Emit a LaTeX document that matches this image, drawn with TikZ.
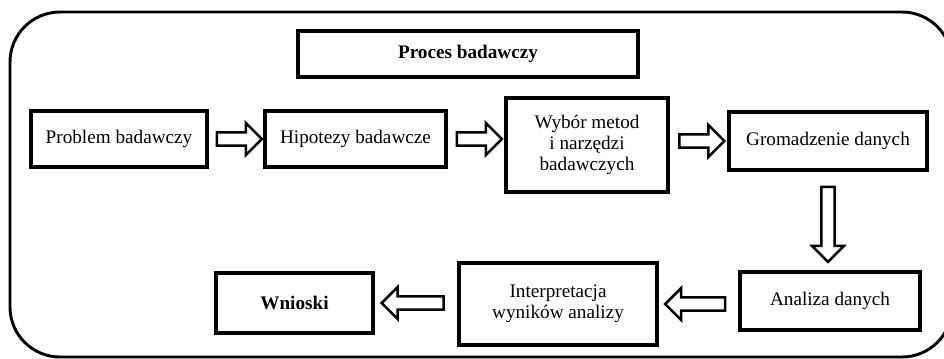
\documentclass[tikz,border=0pt]{standalone}
\usepackage{fontspec}
\setmainfont{Liberation Serif}
\usetikzlibrary{shapes.arrows,positioning}

\begin{document}
\begin{tikzpicture}[x=0.75pt, y=-0.75pt,
    box/.style={draw, line width=2.4pt, align=center, inner sep=2pt,
                font=\fontsize{14.4}{16}\selectfont},
    blockarr/.style={draw, line width=1.9pt, fill=white, single arrow,
                     single arrow head extend=7pt, inner sep=4pt,
                     minimum height=#1, sloped, allow upside down}]
\clip (0,0) rectangle (944,358);
\useasboundingbox (0,0) rectangle (944,358);

% ramka
\draw[line width=2.2pt, rounded corners=37.5pt] (10,12) rectangle (952,357);

\node[box, minimum width=255pt, minimum height=34.5pt] (tytul) at (468,54) {\bfseries Proces badawczy};

\node[box, minimum width=132pt, minimum height=42pt] (problem) at (119,139) {Problem badawczy};
\node[box, minimum width=135.75pt, minimum height=42pt] (hipotezy) at (355.5,139) {Hipotezy badawcze};
\node[box, minimum width=121.5pt, minimum height=70.5pt] (metody) at (587,145) {Wybór metod\\i narzędzi\\badawczych};
\node[box, minimum width=148.5pt, minimum height=43.5pt] (dane) at (828,141) {Gromadzenie danych};

\node[box, minimum width=135pt, minimum height=43.5pt] (analiza) at (830,301) {Analiza danych};
\node[box, minimum width=148.5pt, minimum height=61.5pt] (interp) at (558,304) {Interpretacja\\wyników analizy};
\node[box, minimum width=117.75pt, minimum height=45pt] (wnioski) at (294.5,303) {\bfseries Wnioski};

\path (problem) -- node[blockarr=33.75pt] (s1) {} (hipotezy);
\path (hipotezy) -- node[blockarr=33.75pt] (s2) {} (metody.west |- hipotezy);
\path (metody.east |- dane) -- node[blockarr=33.75pt] (s3) {} (dane);
\path (dane.south) -- node[blockarr=56.25pt] (s4) {} (dane.south |- analiza.north);
\path (analiza.west |- interp) -- node[blockarr=45pt] (s5) {} (interp);
\path (interp.west |- wnioski) -- node[blockarr=46.5pt] (s6) {} (wnioski);
\end{tikzpicture}
\end{document}
